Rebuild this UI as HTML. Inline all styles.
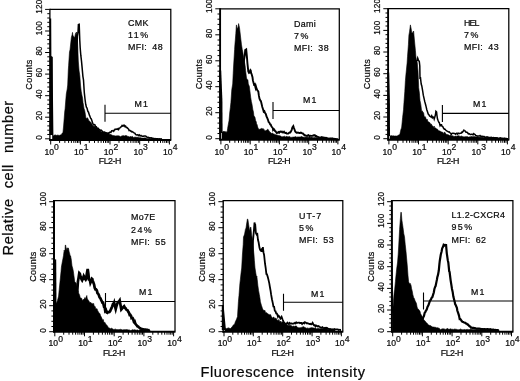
<!DOCTYPE html>
<html><head><meta charset="utf-8"><title>Figure</title>
<style>html,body{margin:0;padding:0;background:#fff;}svg{display:block;}text{font-family:"Liberation Sans", Arial, Helvetica, sans-serif;fill:#0a0a0a;stroke:#0a0a0a;stroke-width:0.22px;}</style>
</head><body>
<svg width="520" height="381" viewBox="0 0 520 381">
<rect width="520" height="381" fill="#fff"/>
<g>
<polygon points="52.5,139.6 52.5,134.8 53.2,135.7 53.9,135.4 54.6,135.1 55.3,134.9 56,135.2 57,135.6 57.4,134.9 58.1,135.2 58.8,135.3 59.5,135.4 60.2,134.9 61,135 61.6,134.3 62.3,133 62.9,133 63.6,126 64.7,112 65.1,108.7 65.8,100 66.3,94 67.2,89.1 67.7,85 68.3,70 68.6,65.8 69.5,51.7 70,49.9 71,40.7 71.4,37.2 72.1,34.8 72.5,32.4 72.8,35.1 73.3,36 74.3,37.5 74.9,36.4 75.5,33.5 76.5,32 77.2,36 77.8,48 78.3,61 79.1,70.9 79.8,75.5 80.5,85 81.2,91.2 81.9,95.1 82.6,98.3 83,102.6 83.3,103.9 84,108.4 84.7,110.6 85.4,114.4 85.8,117.3 86.1,119 86.8,117.9 87.5,117.8 88.2,119.1 88.9,120.7 89.5,121 90.3,122.3 91,122.3 91.7,123.8 92.4,125.3 93.1,125.5 94,126.5 94.5,126 95.2,127.3 95.9,126.7 96.6,127.6 97.3,127.8 98,128.6 98.7,129.1 99.6,130 100.1,131 100.8,131.2 101.5,131.9 102.2,131.8 102.9,131.8 103.6,132.4 104.3,131.4 105,133 105.7,133 106.4,132.8 107.1,133.6 107.8,133.6 108.5,133 109.2,133.7 110,134.5 110.6,134.2 111.3,134.6 112,135.3 112.7,135.4 113.4,135.5 114.1,135.7 115,135.8 115.5,136 116.2,135.7 116.9,136 117.6,135.7 118.3,135.7 119,135.9 120,136.3 120.4,136.7 121.1,136.2 121.8,136 122.5,135.7 123.2,135.8 123.9,135.6 124.6,136 125,135.8 125.3,135.6 126,135.6 126.7,135.7 127.4,136.2 128.1,136.4 128.8,136.6 129.5,137 130,136.6 130.9,136.5 131.6,136.8 132.3,136.4 133,136.7 133.7,137.4 134.4,137.2 135.1,137.1 135.8,137.2 136.5,137.3 137.2,137.3 137.9,137.2 138.6,137.6 139.3,137.8 140,137.6 140.7,137.8 141.4,137.9 142.1,138.1 142.8,138.1 143.5,138.1 144.2,138 144.9,137.8 145.6,137.9 146.3,138.2 147,138.4 147.7,138.4 148.4,138.2 149.1,138.4 150,138.4 150.5,138.8 151.2,138.5 151.9,138.5 152.6,138.3 153.3,138.3 154,138.5 154.7,138.6 155.4,138.8 156.1,139 156.8,139 157.5,139.1 158.2,138.9 158.9,138.7 159.6,138.9 160.3,139.3 161,139.2 161.7,138.9 162,139 162,139.6" fill="#000" stroke="#000" stroke-width="0.6" stroke-linejoin="miter"/>
<polyline points="76.6,60 77.4,36 78,32.5 78.4,24.5 79.2,24.2 79.8,40.7 80.2,48 80.8,55.2 81.5,61.2 82,66.4 82.9,76.3 83.5,80 84.3,92.7 85,99 85.7,104.3 86.4,107.1 87,108 87.8,111.2 88.5,112.2 89.5,115.4 89.9,116.3 90.6,118.2 91.3,119 92,121 92.7,123.3 93.4,124.8 94,124.6 94.8,124.7 95.5,126.4 96.2,126.7 97,128 97.6,128.5 98.3,128.3 99,129.5 100,130 100.4,130.5 101.1,130.2 101.8,130.6 102.5,131.8 103.2,131.9 103.9,132.6 104.6,132.5 105,132.3 105.3,132.6 106,132.7 106.7,132.9 107.4,133.3 108,133 108.8,133.1 109.5,132.4 110.2,132.1 111,132.4 111.6,130.8 112.3,131 113,130.5 113.7,131.3 114.4,130.2 115.1,129.1 115.7,129.4 116.5,129.1 117.2,129.3 118,128.6 118.6,129.5 119.3,128.1 120,127.9 120.5,127.4 121.4,126.6 122.1,125.4 122.8,126.1 123.2,126 123.5,125.4 124,125 125,126.6 125.6,126.2 126.3,127.6 127,127.6 128,128.6 128.4,128.8 129.1,130.6 129.8,130.4 130.5,130.9 131.5,131.8 131.9,131.4 132.6,131.8 133.3,132.3 134,132.9 135,133.4 135.4,134.2 136.1,134.9 136.8,135 137.5,134.7 138.2,134.9 138.9,135.7 139.4,134.9 140.3,135.9 141,135.5 141.7,136.1 142.4,136.3 143,136 143.8,136.3 144.5,136.1 145.2,136.1 145.9,136.2 146.6,136.8 147.2,137.2 148,137.2 148.7,137.4 149.4,137.9 150.1,137.7 151,138 151.5,137.8 152.2,138.4 152.9,138.3 153.6,138.6 154.3,138.7 155,138.5 155.7,138.7 156.4,138.7 157.1,138.8 157.8,138.8 158.5,138.9 159.2,139 159.9,138.8 160.6,139 161.3,138.9 162,139" fill="none" stroke="#000" stroke-width="1.5" stroke-linejoin="miter"/>
<polygon points="49.6,18.5 51.2,18.5 51.4,56 52.8,57 53,100 53.4,135 49.6,135" fill="#000"/>
<path d="M49.9,9.4 H170.8 V139.6" fill="none" stroke="#000" stroke-width="1.25"/>
<path d="M49.9,8.8 V140.6" fill="none" stroke="#000" stroke-width="1.3"/>
<path d="M49.1,139.9 H171.3" fill="none" stroke="#000" stroke-width="2"/>
<path d="M49.9,138.8h-4.8M49.9,134.5h-2.6M49.9,130.2h-2.6M49.9,125.9h-2.6M49.9,121.5h-2.6M49.9,117.2h-4.8M49.9,112.9h-2.6M49.9,108.6h-2.6M49.9,104.3h-2.6M49.9,100h-2.6M49.9,95.7h-4.8M49.9,91.4h-2.6M49.9,87h-2.6M49.9,82.7h-2.6M49.9,78.4h-2.6M49.9,74.1h-4.8M49.9,69.8h-2.6M49.9,65.5h-2.6M49.9,61.2h-2.6M49.9,56.8h-2.6M49.9,52.5h-4.8M49.9,48.2h-2.6M49.9,43.9h-2.6M49.9,39.6h-2.6M49.9,35.3h-2.6M49.9,31h-4.8M49.9,26.7h-2.6M49.9,22.3h-2.6M49.9,18h-2.6M49.9,13.7h-2.6M49.9,9.4h-4.8" stroke="#000" stroke-width="1" fill="none"/>
<text transform="translate(41.9,137.5) rotate(-90)" font-size="8.2" text-anchor="middle" letter-spacing="0.15">0</text>
<text transform="translate(41.9,115.6) rotate(-90)" font-size="8.2" text-anchor="middle" letter-spacing="0.15">20</text>
<text transform="translate(41.9,94.1) rotate(-90)" font-size="8.2" text-anchor="middle" letter-spacing="0.15">40</text>
<text transform="translate(41.9,72.5) rotate(-90)" font-size="8.2" text-anchor="middle" letter-spacing="0.15">60</text>
<text transform="translate(41.9,50.9) rotate(-90)" font-size="8.2" text-anchor="middle" letter-spacing="0.15">80</text>
<text transform="translate(41.9,28.2) rotate(-90)" font-size="8.2" text-anchor="middle" letter-spacing="0.15">100</text>
<text transform="translate(41.9,6.6) rotate(-90)" font-size="8.2" text-anchor="middle" letter-spacing="0.15">120</text>
<text transform="translate(32.1,74.5) rotate(-90)" font-size="9" text-anchor="middle" letter-spacing="0.3">Counts</text>
<path d="M50.7,139.6v4.9M59.6,139.6v3.3M64.9,139.6v3.3M68.6,139.6v3.3M71.4,139.6v3.3M73.8,139.6v3.3M75.8,139.6v3.3M77.5,139.6v3.3M79,139.6v3.3M80.4,139.6v4.9M89.3,139.6v3.3M94.5,139.6v3.3M98.2,139.6v3.3M101.1,139.6v3.3M103.5,139.6v3.3M105.5,139.6v3.3M107.2,139.6v3.3M108.7,139.6v3.3M110,139.6v4.9M119,139.6v3.3M124.2,139.6v3.3M127.9,139.6v3.3M130.8,139.6v3.3M133.1,139.6v3.3M135.1,139.6v3.3M136.8,139.6v3.3M138.4,139.6v3.3M139.7,139.6v4.9M148.7,139.6v3.3M153.9,139.6v3.3M157.6,139.6v3.3M160.5,139.6v3.3M162.8,139.6v3.3M164.8,139.6v3.3M166.5,139.6v3.3M168,139.6v3.3M169.4,139.6v4.9" stroke="#000" stroke-width="1" fill="none"/>
<text x="44.4" y="154.6" font-size="8.6">10<tspan dy="-4.4" dx="0.1">0</tspan></text>
<text x="74.1" y="154.6" font-size="8.6">10<tspan dy="-4.4" dx="0.1">1</tspan></text>
<text x="103.8" y="154.6" font-size="8.6">10<tspan dy="-4.4" dx="0.1">2</tspan></text>
<text x="133.4" y="154.6" font-size="8.6">10<tspan dy="-4.4" dx="0.1">3</tspan></text>
<text x="163.1" y="154.6" font-size="8.6">10<tspan dy="-4.4" dx="0.1">4</tspan></text>
<text x="109.8" y="164.4" font-size="8.8" text-anchor="middle" letter-spacing="-0.5">FL2-H</text>
<text x="128" y="26" font-size="8.9" letter-spacing="0.35">CMK</text>
<text x="128" y="38.2" font-size="8.9" letter-spacing="1.5">11%</text>
<text x="128" y="50.4" font-size="8.9" letter-spacing="0.35" word-spacing="2.4">MFI: 48</text>
<path d="M105,104.7v17M105,113.2H170.8" stroke="#000" stroke-width="1.1" fill="none"/>
<text x="134.5" y="106.5" font-size="8.8" letter-spacing="1.2">M1</text>
</g>
<g>
<polygon points="222,139.5 222,132.2 222.7,131.9 223.4,131.6 224,131 224.8,132 225.5,131.6 226,132.4 226.9,131.4 227.2,131.8 227.6,128.6 228.3,124.4 229,120.8 229.7,113 230.4,107.2 230.9,102.4 231.8,89.4 232.7,84 233.2,73.4 233.6,66 234.6,49.5 234.9,44.8 235.3,40.1 235.8,33.7 236.4,24.9 237.3,29 238.1,27 238.6,23.6 239.5,27.8 240,31.9 240.9,39.8 241.5,44.8 242.3,49.8 242.8,52 243.7,57.6 244.3,61.3 245.1,65.4 245.6,70.5 246.5,78 247.2,79.7 247.9,79.7 248.3,84 249.3,86.2 250.2,93.2 250.7,97.3 251.4,101.7 252,104.3 252.8,109.4 253.5,112.2 253.8,115.3 254.2,116.2 254.9,117 255.6,120.5 256.3,121.9 256.6,124.5 257,124.2 257.7,127.1 258.4,128.8 259.1,129.4 259.4,130 259.8,128.9 260.5,129 261.2,128.4 261.9,128.6 262.6,128.9 263,128.4 264,129.4 264.7,130.8 265,131 265.4,131 266.1,130.1 266.8,130.5 267.6,129.2 268.2,129.5 268.9,130.8 269.6,131.6 270,132.6 271,132.7 271.7,133.5 272.4,132.8 273,134 273.8,133.9 274.5,134.2 275.2,134.8 275.9,134.4 276.6,135 277.3,135.1 278,135.4 278.7,135.5 279.4,135.6 280,136 280.8,136 281.5,136.7 282.2,136.7 282.9,136.7 283.6,136.6 284.3,136.2 285,136.4 285.7,137 286.4,136.3 287.1,136.6 287.8,136.8 288.5,136.7 289.2,136.8 290,136.6 290.6,137.4 291.3,137.3 292,137.4 292.7,137.1 293.4,137.1 294.1,136.9 294.8,136.9 295.5,136.6 296.2,136.9 296.9,137.2 297.6,136.9 298.3,136.9 299,137 299.7,136.9 300,136.8 300.4,137 301.1,136.6 301.8,136.5 302.5,136.9 303.2,137.1 303.9,137.3 304.6,137.2 305.3,137.2 306,136.7 306.7,137.3 307.4,137 308.1,137.4 308.8,137 309.5,137 310,137.3 310.9,137.2 311.6,137.1 312.3,137.5 313,137.6 313.7,137.7 314.4,137.5 315.1,137.4 315.8,137.4 316.5,137.4 317.2,137.6 317.9,137.8 318.6,137.7 319.3,137.6 320,137.8 320.7,138 321.4,138 322.1,138 322.8,138 323.5,138.1 324.2,138.1 324.9,138.3 325.6,138.3 326.3,137.7 327,137.9 327.7,138.6 328.4,138.2 329.1,138.2 329.8,138.5 330.5,138.4 331.2,138.6 331.9,138.3 332.6,138.1 333.3,138.3 334,138.3 334.7,138.2 335,138.5 335,139.5" fill="#000" stroke="#000" stroke-width="0.6" stroke-linejoin="miter"/>
<polyline points="243.4,75 244,60 244.8,55.5 245.2,50 246.2,49.4 246.9,56.5 247.4,63 248.3,71.4 249,72.8 249.5,72.5 250.4,70.1 250.7,70.5 251.1,73 251.6,74 252.5,77.3 252.9,80.4 254,84.5 254.8,84 255.3,86.9 255.6,88 256,86.6 256.7,89 257.4,90.4 258.3,91.4 258.8,95.2 259.5,98.6 260.4,100.6 260.9,101.1 261.6,104 262.3,107 263.2,109.8 263.7,111.7 264.4,111.2 265.1,113.1 265.8,114 266.5,116.3 266.8,117 267.2,117.8 267.9,119.6 268.6,122 269.3,122.5 270.2,124.5 270.7,124.6 271.4,126.2 272.1,127.3 272.8,128.1 273.1,130 273.5,129.6 274.2,129.4 274.9,131 275.6,131.2 276.3,132.4 276.8,133 277.7,132.6 278.4,132.1 279.1,132.8 279.8,131.9 280.5,131.6 281.2,131.7 281.9,131.6 282.3,132.3 283.3,132.4 284,131.7 284.7,132.8 285.4,133 286.1,132.8 286.8,133.6 287.5,133.6 288.2,133.6 288.9,133 289.6,132.4 290.3,132.5 291,131.2 291.7,129.8 292.4,127.4 293.3,126.1 293.8,127.6 294.6,129.7 295.2,131.5 296,132.4 296.6,132.8 297.3,132.8 298,132.5 298.7,132.8 299.4,133 300.1,133 300.8,132.6 301.5,132.9 302.2,133.4 302.9,133.5 303.6,134.3 303.9,134.7 304.3,134.7 305,135.5 305.7,135.5 306.4,135.9 307.1,136 307.8,135.4 308.5,135.2 309.4,136.2 309.9,135.9 310.6,135.7 311.3,135.9 312,135.9 312.7,135.8 313.4,135.2 314,135.4 314.8,135.1 315.5,136 316.2,136 316.9,136.6 317.6,136.7 318.3,137 319,137.5 319.7,137.4 320.4,137.6 321.1,137.3 321.8,137 322.5,137.3 323.2,137.5 323.9,137.8 324.6,137.8 325.3,138 326,137.8 326.7,138.1 327.4,138.2 328.1,138.5 328.8,138.9 329.5,138.8 329.8,138.5 330.2,138.5 330.9,138.5 331.6,138.9 332.3,138.5 333,138.6 333.7,138.8 334.4,139 335.1,138.9 335.8,138.9 336.5,139.1 337.2,139.2 338,139.1" fill="none" stroke="#000" stroke-width="1.9" stroke-linejoin="miter"/>
<polygon points="219.2,70 221.2,70.5 222.4,100 222.6,133 219.2,133" fill="#000"/>
<path d="M220.1,8.8 H339.3 V139.5" fill="none" stroke="#000" stroke-width="1.25"/>
<path d="M220.1,8.2 V140.5" fill="none" stroke="#000" stroke-width="1.9"/>
<path d="M219.3,139.8 H339.8" fill="none" stroke="#000" stroke-width="2"/>
<path d="M220.1,138.7h-4.8M220.1,133.5h-2.6M220.1,128.3h-2.6M220.1,123.1h-2.6M220.1,117.9h-2.6M220.1,112.7h-4.8M220.1,107.5h-2.6M220.1,102.3h-2.6M220.1,97.1h-2.6M220.1,91.9h-2.6M220.1,86.7h-4.8M220.1,81.5h-2.6M220.1,76.3h-2.6M220.1,71.2h-2.6M220.1,66h-2.6M220.1,60.8h-4.8M220.1,55.6h-2.6M220.1,50.4h-2.6M220.1,45.2h-2.6M220.1,40h-2.6M220.1,34.8h-4.8M220.1,29.6h-2.6M220.1,24.4h-2.6M220.1,19.2h-2.6M220.1,14h-2.6M220.1,8.8h-4.8" stroke="#000" stroke-width="1" fill="none"/>
<text transform="translate(212.1,137.4) rotate(-90)" font-size="8.2" text-anchor="middle" letter-spacing="0.15">0</text>
<text transform="translate(212.1,111.1) rotate(-90)" font-size="8.2" text-anchor="middle" letter-spacing="0.15">20</text>
<text transform="translate(212.1,85.1) rotate(-90)" font-size="8.2" text-anchor="middle" letter-spacing="0.15">40</text>
<text transform="translate(212.1,59.2) rotate(-90)" font-size="8.2" text-anchor="middle" letter-spacing="0.15">60</text>
<text transform="translate(212.1,33.2) rotate(-90)" font-size="8.2" text-anchor="middle" letter-spacing="0.15">80</text>
<text transform="translate(212.1,6) rotate(-90)" font-size="8.2" text-anchor="middle" letter-spacing="0.15">100</text>
<text transform="translate(202.3,74.1) rotate(-90)" font-size="9" text-anchor="middle" letter-spacing="0.3">Counts</text>
<path d="M220.9,139.5v4.9M229.7,139.5v3.3M234.9,139.5v3.3M238.5,139.5v3.3M241.3,139.5v3.3M243.7,139.5v3.3M245.6,139.5v3.3M247.3,139.5v3.3M248.8,139.5v3.3M250.2,139.5v4.9M259,139.5v3.3M264.1,139.5v3.3M267.8,139.5v3.3M270.6,139.5v3.3M272.9,139.5v3.3M274.9,139.5v3.3M276.6,139.5v3.3M278.1,139.5v3.3M279.4,139.5v4.9M288.2,139.5v3.3M293.4,139.5v3.3M297,139.5v3.3M299.8,139.5v3.3M302.2,139.5v3.3M304.1,139.5v3.3M305.8,139.5v3.3M307.3,139.5v3.3M308.7,139.5v4.9M317.5,139.5v3.3M322.6,139.5v3.3M326.3,139.5v3.3M329.1,139.5v3.3M331.4,139.5v3.3M333.4,139.5v3.3M335.1,139.5v3.3M336.6,139.5v3.3M337.9,139.5v4.9" stroke="#000" stroke-width="1" fill="none"/>
<text x="214.6" y="154.5" font-size="8.6">10<tspan dy="-4.4" dx="0.1">0</tspan></text>
<text x="243.8" y="154.5" font-size="8.6">10<tspan dy="-4.4" dx="0.1">1</tspan></text>
<text x="273.1" y="154.5" font-size="8.6">10<tspan dy="-4.4" dx="0.1">2</tspan></text>
<text x="302.4" y="154.5" font-size="8.6">10<tspan dy="-4.4" dx="0.1">3</tspan></text>
<text x="331.6" y="154.5" font-size="8.6">10<tspan dy="-4.4" dx="0.1">4</tspan></text>
<text x="279.1" y="164.3" font-size="8.8" text-anchor="middle" letter-spacing="-0.5">FL2-H</text>
<text x="294" y="27" font-size="8.9" letter-spacing="0.35">Dami</text>
<text x="294" y="39.2" font-size="8.9" letter-spacing="1.5">7%</text>
<text x="294" y="51.4" font-size="8.9" letter-spacing="0.35" word-spacing="2.4">MFI: 38</text>
<path d="M273,102v17M273,110.5H339.3" stroke="#000" stroke-width="1.1" fill="none"/>
<text x="303" y="103.1" font-size="8.8" letter-spacing="1.2">M1</text>
</g>
<g>
<polygon points="390,139.5 390,135.6 390.7,136.1 391.4,135.6 392.1,136 392.8,135.8 393.5,135.8 394,135.9 394.9,136.1 395.6,135.9 396.3,136 397,136.1 397.7,135.7 398,135.5 398.4,135.1 399.1,134.7 399.8,134.6 400.5,131.3 401.2,128.4 401.6,128 402.6,117.6 403.5,109.8 404,102.2 404.8,91.4 405.4,80.7 405.9,75 406.8,66 407.1,63.1 407.5,56.7 408.4,44.8 408.9,35.2 409.5,31.9 410.4,24.9 411.2,29 411.7,32.8 412.6,33 413.1,31.6 413.6,31 414.5,41 415.4,50.3 415.9,56.5 416.3,59.5 417.3,63 418,71 418.7,87.7 419.4,93.1 420,100.6 420.8,104.4 421.5,110.2 421.8,111.6 422.2,110.8 422.9,112.2 423.6,112.7 424.3,116.9 424.6,117 425,116.5 425.7,117.6 426.4,120.1 427.1,119.1 427.8,121.3 428.3,121.7 429.2,122.3 429.9,122.7 430.6,124.2 431.3,124 432,125.4 432.7,126 433.4,127.5 434.1,126 434.8,127.9 435.6,128 436.2,128.5 436.9,129.1 437.6,129.2 438.3,130.6 439,130.8 439.7,130.9 440.4,131.3 441.1,131.8 441.8,132 442.5,132.1 443.2,133.5 443.9,132.7 444.6,131.9 445.3,133.1 446,133.8 446.7,134.6 447.4,134.6 448.1,134.7 448.8,135 449.5,135.5 450.2,135.2 450.9,135.2 451.6,136 452.3,136 453,135.6 453.7,136.5 454.4,136.5 455.1,136.1 456,136.2 456.5,136.2 457.2,136 457.9,135.8 458.6,135.7 459.3,135.9 460,136.5 460.7,136.3 461.4,136 462.1,136.5 462.8,136.5 463.5,136.8 464.2,137 465,136.6 465.6,136.7 466.3,136.7 467,136.4 467.7,136.8 468.4,137.1 469.1,137 469.8,136.8 470.5,136.8 471.2,136.6 471.9,136.6 472.6,136.7 473.3,136.6 474,136.7 474.7,136.5 475.4,136.9 476.1,137 476.8,136.8 477.5,136.4 478.2,136.8 478.9,137.3 479.6,137.1 480,137.2 481,137 481.7,137.3 482.4,137.1 483.1,137.5 483.8,137.3 484.5,137.6 485.2,137.5 485.9,137.4 486.6,137.1 487.3,137.1 488,137.3 488.7,137.6 489.4,137.6 490.1,137.4 490.8,137.6 491.5,137.8 492.2,137.7 492.9,137.6 493.6,137.5 494.3,137.8 495,137.7 495.7,137.6 496.4,137.8 497.1,137.7 497.8,137.6 498.5,138 499.2,138.1 499.9,137.9 500.6,137.9 501.3,138.1 502,137.9 502.7,138 503.4,138.2 504.1,137.8 504.8,138 505.5,138.2 506.2,138.3 507,138.2 507,139.5" fill="#000" stroke="#000" stroke-width="0.6" stroke-linejoin="miter"/>
<polyline points="415.6,75 416.4,61.2 417.2,60.4 417.7,58.2 418.4,60.1 419.3,61.6 419.8,66 420,78 420.5,77.9 421.2,84 421.8,85.9 422.6,90.5 423.3,95.2 423.7,96.9 424.7,101.4 425.5,104.2 426.1,106.6 426.8,109.7 427.4,111.6 428.2,114 428.9,114.7 429.6,116.1 430.3,116.3 431,117 431.7,115.8 432.4,117.8 433.1,117 433.8,117.5 434.2,119 435.4,115 435.9,111.3 436.2,111.6 436.6,112.1 436.9,115 437.5,119 438,120.3 438.7,122 439.3,122.6 440.1,125.7 440.8,124.7 441.5,124.7 442,126.3 442.9,126.7 443.6,128.3 444.3,129.1 444.8,129 445.7,130 446.4,130.7 447.1,131.2 447.8,131.5 448.5,132 449.2,131.8 449.9,132.8 450.6,133.2 451.3,134.5 452,133.4 452.7,133.2 453.4,133.3 454.1,133.6 454.8,133.6 455.7,134.2 456.2,133.6 456.9,133.2 457.6,134 458.3,133.2 459,133.6 459.7,133.6 460.4,133.2 461.1,133.2 462,132 462.5,132.3 463.2,131.2 463.9,130.2 464.4,130.6 465.3,131.1 466,132.2 466.5,132.2 467.4,132.5 468.3,133.8 468.8,134 469.5,133.8 470.2,134.5 470.9,134.4 471.6,134.2 472.3,134.2 473,134.8 473.7,133.6 474.4,134.2 475.1,134.5 475.8,135.7 476.5,135.8 477.2,136 477.9,135.9 478.6,135.9 479.4,136 480,135.5 480.7,136.3 481.4,136.2 482.1,136.2 482.8,136.6 483.5,136.6 484.2,136.6 484.9,137.3 485.6,137.3 486,137 487,137 487.7,137 488.4,137.3 489.1,137.5 489.8,137.4 490.5,137.4 491.2,137.2 492,137.7 492.6,137.8 493.3,137.6 494,137.7 494.7,137.7 495.4,137.8 496.1,138 496.8,137.8 497.5,138.2 498.2,138.5 498.9,138.6 499.6,138.2 500.3,137.9 501,138.1 501.7,138.3 502.4,138.4 503,138.5 503.8,138.5 504.5,138.5 505.2,138.7 505.9,138.5 506.6,138.7 507.3,138.8 508,138.8" fill="none" stroke="#000" stroke-width="1.5" stroke-linejoin="miter"/>
<polygon points="387.4,72 389.2,72.5 389.9,100 390,136 387.4,136" fill="#000"/>
<path d="M388.1,8.7 H508.8 V139.5" fill="none" stroke="#000" stroke-width="1.25"/>
<path d="M388.1,8.1 V140.5" fill="none" stroke="#000" stroke-width="1.9"/>
<path d="M387.3,139.8 H509.3" fill="none" stroke="#000" stroke-width="2"/>
<path d="M388.1,138.7h-4.8M388.1,134.4h-2.6M388.1,130h-2.6M388.1,125.7h-2.6M388.1,121.4h-2.6M388.1,117h-4.8M388.1,112.7h-2.6M388.1,108.4h-2.6M388.1,104h-2.6M388.1,99.7h-2.6M388.1,95.4h-4.8M388.1,91h-2.6M388.1,86.7h-2.6M388.1,82.4h-2.6M388.1,78h-2.6M388.1,73.7h-4.8M388.1,69.4h-2.6M388.1,65h-2.6M388.1,60.7h-2.6M388.1,56.4h-2.6M388.1,52h-4.8M388.1,47.7h-2.6M388.1,43.4h-2.6M388.1,39h-2.6M388.1,34.7h-2.6M388.1,30.4h-4.8M388.1,26h-2.6M388.1,21.7h-2.6M388.1,17.4h-2.6M388.1,13h-2.6M388.1,8.7h-4.8" stroke="#000" stroke-width="1" fill="none"/>
<text transform="translate(380.1,137.4) rotate(-90)" font-size="8.2" text-anchor="middle" letter-spacing="0.15">0</text>
<text transform="translate(380.1,115.4) rotate(-90)" font-size="8.2" text-anchor="middle" letter-spacing="0.15">20</text>
<text transform="translate(380.1,93.8) rotate(-90)" font-size="8.2" text-anchor="middle" letter-spacing="0.15">40</text>
<text transform="translate(380.1,72.1) rotate(-90)" font-size="8.2" text-anchor="middle" letter-spacing="0.15">60</text>
<text transform="translate(380.1,50.4) rotate(-90)" font-size="8.2" text-anchor="middle" letter-spacing="0.15">80</text>
<text transform="translate(380.1,27.6) rotate(-90)" font-size="8.2" text-anchor="middle" letter-spacing="0.15">100</text>
<text transform="translate(380.1,5.9) rotate(-90)" font-size="8.2" text-anchor="middle" letter-spacing="0.15">120</text>
<text transform="translate(370.3,74.1) rotate(-90)" font-size="9" text-anchor="middle" letter-spacing="0.3">Counts</text>
<path d="M388.9,139.5v4.9M397.8,139.5v3.3M403,139.5v3.3M406.7,139.5v3.3M409.6,139.5v3.3M412,139.5v3.3M413.9,139.5v3.3M415.7,139.5v3.3M417.2,139.5v3.3M418.5,139.5v4.9M427.4,139.5v3.3M432.7,139.5v3.3M436.4,139.5v3.3M439.2,139.5v3.3M441.6,139.5v3.3M443.6,139.5v3.3M445.3,139.5v3.3M446.8,139.5v3.3M448.2,139.5v4.9M457.1,139.5v3.3M462.3,139.5v3.3M466,139.5v3.3M468.9,139.5v3.3M471.2,139.5v3.3M473.2,139.5v3.3M474.9,139.5v3.3M476.4,139.5v3.3M477.8,139.5v4.9M486.7,139.5v3.3M491.9,139.5v3.3M495.6,139.5v3.3M498.5,139.5v3.3M500.8,139.5v3.3M502.8,139.5v3.3M504.5,139.5v3.3M506,139.5v3.3M507.4,139.5v4.9" stroke="#000" stroke-width="1" fill="none"/>
<text x="382.6" y="154.5" font-size="8.6">10<tspan dy="-4.4" dx="0.1">0</tspan></text>
<text x="412.2" y="154.5" font-size="8.6">10<tspan dy="-4.4" dx="0.1">1</tspan></text>
<text x="441.9" y="154.5" font-size="8.6">10<tspan dy="-4.4" dx="0.1">2</tspan></text>
<text x="471.5" y="154.5" font-size="8.6">10<tspan dy="-4.4" dx="0.1">3</tspan></text>
<text x="501.1" y="154.5" font-size="8.6">10<tspan dy="-4.4" dx="0.1">4</tspan></text>
<text x="447.9" y="164.3" font-size="8.8" text-anchor="middle" letter-spacing="-0.5">FL2-H</text>
<text x="464" y="26" font-size="8.9" letter-spacing="-0.9">HEL</text>
<text x="464" y="38.2" font-size="8.9" letter-spacing="1.5">7%</text>
<text x="464" y="50.4" font-size="8.9" letter-spacing="0.35" word-spacing="2.4">MFI: 43</text>
<path d="M442.4,104.9v17M442.4,113.4H508.8" stroke="#000" stroke-width="1.1" fill="none"/>
<text x="473" y="106.6" font-size="8.8" letter-spacing="1.2">M1</text>
</g>
<g>
<polygon points="54.4,331.4 54.4,305.5 55.1,305.2 56,303.5 56.5,302.8 57.4,300.7 57.9,298.8 58.6,296.1 59.2,289.7 60,281.8 61,271.8 61.4,267.1 62.1,263.1 62.9,258.9 63.5,255.6 64.2,250 64.9,252.3 65.3,245.1 65.6,245 66.5,250.6 67,247.7 67.4,248 67.7,250 68.4,247.9 69.2,252 69.8,253.9 70.2,257 70.5,255.7 71.2,259 72,266 72.6,267.8 73.3,271.1 73.9,275.4 74.7,281.6 75.7,282.8 76.1,283 76.8,286 77.6,290 78.2,291.2 79,294 79.6,294.9 80.3,298 81,298 81.7,298.3 82.2,300.5 83.1,299.4 83.8,299.6 84.5,298.5 84.9,297.5 85.2,298.9 85.9,297.8 86.8,295.5 87.3,298.9 88,299.5 88.7,300.7 89.5,302 90.1,302.8 90.8,302.3 91.5,303.5 92.2,303.3 93.2,304.5 93.6,303.3 94.3,306.5 95,306.2 95.7,308.4 96.4,308.9 96.9,308.5 97.8,310.9 98.5,312.1 99.2,313.2 99.6,313.5 99.9,313.5 100.6,315.8 101.3,317 102,318.6 102.7,320.3 103.3,319.5 104.1,323 104.8,322.2 105.5,323.4 106,324.6 106.9,325.2 107.6,326.1 108.3,327.7 109,327.8 109.7,328.3 110.4,328.7 111.1,328.3 111.8,328.3 112.5,328.8 113.4,329.4 113.9,329.3 114.6,329.4 115.3,328.8 116,329.7 116.7,329.6 117.4,329.6 118.1,329.7 118.8,329.6 119.5,329.6 120.2,329.3 120.9,329.4 121.6,329.6 122.3,329.9 123,329.7 123.7,329.7 124.4,329.7 125,329.6 125.8,329.8 126.5,329.6 127.2,329.5 127.9,329.9 128.6,329.9 129.3,329.7 130,330.8 130.7,330.4 131.4,330.3 132.1,330 132.8,329.5 133.5,330 134.2,329.8 134.9,329.8 135.6,330 136.3,330.2 137,330 137.7,329.9 138.4,330.4 139.1,330.2 139.8,329.7 140.5,329.9 141.2,329.9 141.9,329.8 142.6,330 143.3,330 144,330.5 145,329.8 145,331.4" fill="#000" stroke="#000" stroke-width="0.6" stroke-linejoin="miter"/>
<polyline points="77.2,292 77.9,281.9 78.6,277.6 79,275 79.3,273.1 79.8,273.6 80.7,277 81.6,279.4 82.1,280.2 83,278 83.5,279.8 84,276.4 85,278 85.8,279.4 86.3,278.5 86.8,274 87.7,269 88.4,274 89,279.6 89.8,279.8 90.4,282.8 91.4,280.5 91.9,278.7 92.3,279 92.6,280.4 93.2,282 94.1,284.6 94.7,287.8 95.4,289.3 96,289.3 96.8,290.4 97.5,293.2 98.2,293.8 98.9,295.3 99.6,297.3 100.5,298.4 101,299.8 101.7,301 102.4,302.6 103.1,302.6 104,306.5 104.5,306.4 105.2,310.7 105.9,309.9 106.3,311.3 106.6,312.3 107.3,312.8 108,312 108.7,312.2 109.4,312 110.2,311 110.8,309.5 111.6,308 112.2,306.4 112.6,305.2 112.9,304.3 113.6,304.6 114.2,302.8 115,306.5 115.7,309.1 116.5,306 117.3,303.6 117.8,302.3 118.6,301.6 119.2,301.3 119.7,300.5 120.5,305 121.3,309.5 122,308.7 122.5,308 123.6,306.8 124.1,306.3 125,308 125.5,308.2 126,309.1 126.9,310.1 127.6,310.3 128.3,311.8 129.1,313.1 129.7,315.1 130.4,315 131.1,316.1 131.5,317.8 131.8,317.6 132.5,317.8 133.2,319.3 133.9,321.7 134.6,321.3 135.3,323.6 136,324.5 137,325.7 137.4,326.3 138.1,326.5 138.8,327.2 139.5,327.8 140.2,328.3 140.9,328.6 141.6,329.1 142.3,329.2 143,329.3 143.7,329.6 144,329.7 144.4,329.6 145.1,329.7 145.8,329.6 146.5,329.7 147.2,329.9 147.9,330.1 148.6,330.4 149.3,330.4 150,330" fill="none" stroke="#000" stroke-width="2.7" stroke-linejoin="miter"/>
<polygon points="53,259 56.2,259.5 56.5,307 53,307" fill="#000"/>
<path d="M54,200.6 H175 V331.4" fill="none" stroke="#000" stroke-width="1.25"/>
<path d="M54,200 V332.4" fill="none" stroke="#000" stroke-width="2.0"/>
<path d="M53.2,331.7 H175.5" fill="none" stroke="#000" stroke-width="2"/>
<path d="M54,331.7h-4.8M54,326.5h-2.6M54,321.3h-2.6M54,316.1h-2.6M54,310.9h-2.6M54,305.7h-4.8M54,300.5h-2.6M54,295.3h-2.6M54,290.1h-2.6M54,284.9h-2.6M54,279.7h-4.8M54,274.5h-2.6M54,269.3h-2.6M54,264.1h-2.6M54,258.9h-2.6M54,253.7h-4.8M54,248.5h-2.6M54,243.3h-2.6M54,238.1h-2.6M54,232.9h-2.6M54,227.7h-4.8M54,222.5h-2.6M54,217.3h-2.6M54,212.1h-2.6M54,206.9h-2.6M54,201.7h-4.8" stroke="#000" stroke-width="1" fill="none"/>
<text transform="translate(46,330.4) rotate(-90)" font-size="8.2" text-anchor="middle" letter-spacing="0.15">0</text>
<text transform="translate(46,304.1) rotate(-90)" font-size="8.2" text-anchor="middle" letter-spacing="0.15">20</text>
<text transform="translate(46,278.1) rotate(-90)" font-size="8.2" text-anchor="middle" letter-spacing="0.15">40</text>
<text transform="translate(46,252.1) rotate(-90)" font-size="8.2" text-anchor="middle" letter-spacing="0.15">60</text>
<text transform="translate(46,226.1) rotate(-90)" font-size="8.2" text-anchor="middle" letter-spacing="0.15">80</text>
<text transform="translate(46,198.9) rotate(-90)" font-size="8.2" text-anchor="middle" letter-spacing="0.15">100</text>
<text transform="translate(36.2,266.6) rotate(-90)" font-size="9" text-anchor="middle" letter-spacing="0.3">Counts</text>
<path d="M54.8,331.4v4.9M63.7,331.4v3.3M69,331.4v3.3M72.7,331.4v3.3M75.6,331.4v3.3M77.9,331.4v3.3M79.9,331.4v3.3M81.6,331.4v3.3M83.1,331.4v3.3M84.5,331.4v4.9M93.4,331.4v3.3M98.7,331.4v3.3M102.4,331.4v3.3M105.3,331.4v3.3M107.6,331.4v3.3M109.6,331.4v3.3M111.3,331.4v3.3M112.8,331.4v3.3M114.2,331.4v4.9M123.1,331.4v3.3M128.4,331.4v3.3M132.1,331.4v3.3M135,331.4v3.3M137.3,331.4v3.3M139.3,331.4v3.3M141,331.4v3.3M142.5,331.4v3.3M143.9,331.4v4.9M152.8,331.4v3.3M158.1,331.4v3.3M161.8,331.4v3.3M164.7,331.4v3.3M167,331.4v3.3M169,331.4v3.3M170.7,331.4v3.3M172.2,331.4v3.3M173.6,331.4v4.9" stroke="#000" stroke-width="1" fill="none"/>
<text x="48.5" y="346.4" font-size="8.6">10<tspan dy="-4.4" dx="0.1">0</tspan></text>
<text x="78.2" y="346.4" font-size="8.6">10<tspan dy="-4.4" dx="0.1">1</tspan></text>
<text x="107.9" y="346.4" font-size="8.6">10<tspan dy="-4.4" dx="0.1">2</tspan></text>
<text x="137.6" y="346.4" font-size="8.6">10<tspan dy="-4.4" dx="0.1">3</tspan></text>
<text x="167.3" y="346.4" font-size="8.6">10<tspan dy="-4.4" dx="0.1">4</tspan></text>
<text x="113.9" y="356.2" font-size="8.8" text-anchor="middle" letter-spacing="-0.5">FL2-H</text>
<text x="131" y="220.3" font-size="8.9" letter-spacing="0.35">Mo7E</text>
<text x="131" y="232.5" font-size="8.9" letter-spacing="1.5">24%</text>
<text x="131" y="244.7" font-size="8.9" letter-spacing="0.35" word-spacing="2.4">MFI: 55</text>
<path d="M105.5,293v17M105.5,301.5H175" stroke="#000" stroke-width="1.1" fill="none"/>
<text x="139" y="294.8" font-size="8.8" letter-spacing="1.2">M1</text>
</g>
<g>
<polygon points="225,331.4 225,328.8 225.7,328.3 226.4,328.7 227.1,328 228,328.6 228.5,327.7 229.2,328.3 229.9,328.3 230.6,328.5 231,328 232,327 232.7,326 233.4,325 234.1,324.4 234.7,323.8 235.5,321.3 236.2,320.1 236.9,318.2 237.5,316.5 238.4,301.8 239,295.3 239.9,283.4 240.4,279.2 241.1,272.5 241.7,268 242.4,255 243.2,244.5 243.5,236.8 243.9,236.1 244.6,234 245.4,229.4 246,228.1 246.6,224 247.4,219 247.9,219.3 248.4,223 249,226.7 249.5,231.2 250.3,227.6 250.9,227.1 251.6,235 252.3,238.5 252.7,242.3 253.7,252.2 254,255 254.4,260.8 255,268 255.8,273.1 256.5,277.2 256.8,276 257.2,279.3 257.9,285.8 258.6,290.7 259.3,294.4 260,298.6 260.4,301.8 261.4,305.3 262.1,307.3 262.6,309.1 263.5,310.1 264.2,310.8 264.9,310.2 265.6,313 266,312.8 267,312.8 267.7,314 268.4,314.2 269.1,314.2 269.8,315.1 270.6,314.6 271.2,316.3 271.9,317.3 272.6,318.3 273.3,317.1 274,317.2 274.7,318.4 275.1,318.3 276.1,318.2 276.8,319.6 277.5,320.3 278.2,320.5 278.9,319.4 279.6,321.4 280.3,321.5 280.7,321 281.7,322.4 282.4,321.7 283.1,321.9 283.8,322.4 284.3,323.8 285.2,323.9 285.9,324.1 286.6,324.3 287.3,324.9 288,325.2 288.7,325.4 289.4,325 290,325.6 290.8,325.2 291.5,325.7 292.2,326.4 292.9,326.3 293.6,326.1 294.3,326.5 295,326 295.7,326 296.4,326.1 297.1,326.7 297.8,327.6 298.5,327.7 299.2,327.9 300,327.4 300.6,327.7 301.3,327.4 302,327.4 302.7,326.7 303.4,326.8 304.1,326.8 304.8,327.5 305.5,327.8 306.2,328.1 306.9,328.4 307.6,327.9 308.3,328.2 309,328.6 309.7,328.1 310,327.8 310.4,328 311.1,327.5 311.8,327.8 312.5,327.7 313.2,327.9 313.9,327.9 314.6,328.2 315.3,327.6 316,328.6 316.7,328.9 317.4,328.5 318.1,328.3 318.8,328.4 319.5,328.7 320,328.6 320.9,328.9 321.6,328.3 322.3,328.2 323,328.9 323.7,329 324.4,328.6 325.1,328.6 325.8,328.4 326.5,328.5 327.2,329.2 327.9,329.1 328.6,329.4 329.3,329.4 330,329 330.7,329 331.4,329.8 332.1,329.4 332.8,329.2 333.5,329.7 334.2,329.6 335,329.6 335,331.4" fill="#000" stroke="#000" stroke-width="0.6" stroke-linejoin="miter"/>
<polyline points="252.4,262 253,240.4 254,229.4 254.5,222.5 254.8,224.2 255.2,224.5 255.9,233 256.6,234.4 257.3,234 258,240.1 258.6,242.3 259.5,247.8 260.1,249.8 260.8,250.6 261.5,249.6 262.2,250.5 262.9,247.2 263.2,250 263.6,252.9 264.1,255 265,263.5 265.7,268.1 266.4,274 266.9,274.2 267.8,277 268.5,279.9 269.3,283.4 269.9,287 270.6,290.9 271.1,294.4 272,299.5 272.9,303.6 273.4,306.5 274.1,306.7 274.8,310.8 275.1,311 275.5,311.2 276.2,313.4 276.9,313.5 277.6,315.4 277.9,316.5 278.3,315.5 279,316 279.7,317.2 280.5,318.6 281.1,317.7 281.6,316.8 282.6,319.5 283.2,321 283.9,322.4 284.7,323.2 285.3,323.7 286,323.6 286.7,323.7 287.4,322.7 288.1,323.3 288.8,324.2 289.5,323 290,323.6 290.9,323.4 291.6,323.5 292.3,323.7 293,323.8 293.7,323.3 294.4,323.3 295.1,322.8 295.7,323.4 296.5,322.4 297.2,322.8 297.9,322.8 298.6,322.7 299.3,322.6 300,323.2 300.7,323 301.4,323 302.1,324 302.8,323.2 303.6,322.8 304.2,323.3 304.9,322.2 305.6,322.5 306.3,323 307,323.5 307.7,323.2 308.4,323.5 309.1,323.8 309.8,324.1 310.5,323.8 311.2,324.3 311.5,324.1 311.9,324 312.6,322.9 313.3,324.2 314,325.3 314.7,325.2 315.4,326.2 316.1,325.4 316.8,325.9 317.5,326.4 318.2,326.1 318.9,326.4 319.4,326.8 320.3,327.2 321,327.7 321.7,327.5 322.4,327.1 323.1,327.9 323.8,328 324.5,328.3 325.2,327.7 325.9,328 326.6,327.8 327.3,328 328,328.6 328.7,328.8 329.4,329.2 330.1,328.9 330.4,329 330.8,329.2 331.5,329.4 332.2,329.5 332.9,329.5 333.6,329.5 334.3,329 335,329.3 335.7,329.4 336.4,329.4 337.1,329.3 337.8,329.3 338.5,330 339.2,329.8 339.9,329.7 340.6,330 341,330" fill="none" stroke="#000" stroke-width="1.8" stroke-linejoin="miter"/>
<polygon points="221.8,305 223.6,305 225.7,327.5 226,330 221.8,330" fill="#000"/>
<path d="M223.2,200.6 H342.8 V331.4" fill="none" stroke="#000" stroke-width="1.25"/>
<path d="M223.2,200 V332.4" fill="none" stroke="#000" stroke-width="1.4"/>
<path d="M222.4,331.7 H343.3" fill="none" stroke="#000" stroke-width="2"/>
<path d="M223.2,331.7h-4.8M223.2,326.5h-2.6M223.2,321.3h-2.6M223.2,316.1h-2.6M223.2,310.9h-2.6M223.2,305.7h-4.8M223.2,300.5h-2.6M223.2,295.3h-2.6M223.2,290.1h-2.6M223.2,284.9h-2.6M223.2,279.7h-4.8M223.2,274.5h-2.6M223.2,269.3h-2.6M223.2,264.1h-2.6M223.2,258.9h-2.6M223.2,253.7h-4.8M223.2,248.5h-2.6M223.2,243.3h-2.6M223.2,238.1h-2.6M223.2,232.9h-2.6M223.2,227.7h-4.8M223.2,222.5h-2.6M223.2,217.3h-2.6M223.2,212.1h-2.6M223.2,206.9h-2.6M223.2,201.7h-4.8" stroke="#000" stroke-width="1" fill="none"/>
<text transform="translate(215.2,330.4) rotate(-90)" font-size="8.2" text-anchor="middle" letter-spacing="0.15">0</text>
<text transform="translate(215.2,304.1) rotate(-90)" font-size="8.2" text-anchor="middle" letter-spacing="0.15">20</text>
<text transform="translate(215.2,278.1) rotate(-90)" font-size="8.2" text-anchor="middle" letter-spacing="0.15">40</text>
<text transform="translate(215.2,252.1) rotate(-90)" font-size="8.2" text-anchor="middle" letter-spacing="0.15">60</text>
<text transform="translate(215.2,226.1) rotate(-90)" font-size="8.2" text-anchor="middle" letter-spacing="0.15">80</text>
<text transform="translate(215.2,198.9) rotate(-90)" font-size="8.2" text-anchor="middle" letter-spacing="0.15">100</text>
<text transform="translate(205.4,266.6) rotate(-90)" font-size="9" text-anchor="middle" letter-spacing="0.3">Counts</text>
<path d="M224,331.4v4.9M232.8,331.4v3.3M238,331.4v3.3M241.7,331.4v3.3M244.5,331.4v3.3M246.8,331.4v3.3M248.8,331.4v3.3M250.5,331.4v3.3M252,331.4v3.3M253.3,331.4v4.9M262.2,331.4v3.3M267.4,331.4v3.3M271,331.4v3.3M273.9,331.4v3.3M276.2,331.4v3.3M278.2,331.4v3.3M279.9,331.4v3.3M281.4,331.4v3.3M282.7,331.4v4.9M291.5,331.4v3.3M296.7,331.4v3.3M300.4,331.4v3.3M303.2,331.4v3.3M305.5,331.4v3.3M307.5,331.4v3.3M309.2,331.4v3.3M310.7,331.4v3.3M312.1,331.4v4.9M320.9,331.4v3.3M326.1,331.4v3.3M329.7,331.4v3.3M332.6,331.4v3.3M334.9,331.4v3.3M336.9,331.4v3.3M338.6,331.4v3.3M340.1,331.4v3.3M341.4,331.4v4.9" stroke="#000" stroke-width="1" fill="none"/>
<text x="217.7" y="346.4" font-size="8.6">10<tspan dy="-4.4" dx="0.1">0</tspan></text>
<text x="247" y="346.4" font-size="8.6">10<tspan dy="-4.4" dx="0.1">1</tspan></text>
<text x="276.4" y="346.4" font-size="8.6">10<tspan dy="-4.4" dx="0.1">2</tspan></text>
<text x="305.8" y="346.4" font-size="8.6">10<tspan dy="-4.4" dx="0.1">3</tspan></text>
<text x="335.1" y="346.4" font-size="8.6">10<tspan dy="-4.4" dx="0.1">4</tspan></text>
<text x="282.4" y="356.2" font-size="8.8" text-anchor="middle" letter-spacing="-0.5">FL2-H</text>
<text x="299" y="219" font-size="8.9" letter-spacing="1.0">UT-7</text>
<text x="299" y="231.2" font-size="8.9" letter-spacing="1.5">5%</text>
<text x="299" y="243.4" font-size="8.9" letter-spacing="0.35" word-spacing="2.4">MFI: 53</text>
<path d="M283.5,293.8v17M283.5,302.3H342.8" stroke="#000" stroke-width="1.1" fill="none"/>
<text x="311" y="296.5" font-size="8.8" letter-spacing="1.2">M1</text>
</g>
<g>
<polygon points="392.6,331.4 392.6,312.8 393.3,302.8 394,294.2 394.4,290.7 394.7,289.2 395.4,281.7 396.3,272.4 396.8,268 397.6,262 398.2,254.2 398.7,246 399.6,229.4 400.4,218.4 400.9,212.2 401.3,212.4 401.9,220.2 402.4,223.4 403,227.6 403.8,233.8 404.5,236.8 405.2,244.2 406,251.5 406.6,258.1 407.3,266 408,275.7 408.6,281.5 409.4,284 410.1,283.2 411,285.2 411.5,288.3 412.2,291 412.8,294.4 413.6,297.4 414.3,298.4 415,300.6 415.6,301.8 416.4,303.3 417.1,307.1 417.8,309.1 418.3,309.1 419.2,310.2 419.9,311.1 420.6,313.7 421.1,314.6 422,316.3 422.7,317.9 423.4,318.9 423.8,320.1 424.8,320.7 425.5,321.5 426.2,322.8 426.9,322.9 427.5,323.8 428.3,324.9 429,324.9 429.7,325.5 430.4,325.5 431.1,326 431.8,326.6 432.1,326.6 432.5,327 433.2,327 433.9,327.1 434.6,327.2 435.3,327 436,328 436.7,327.7 437.4,327.7 438.1,327.8 438.8,328.3 439.5,328.4 440.2,329.7 440.9,329.4 441.6,329.1 442.3,328.9 443,328.6 443.7,328.9 444.4,328.9 445.1,329.5 445.8,329.2 446.5,328.9 447.2,328.6 447.9,328.5 448.7,329.3 449.3,329.3 450,329 450.7,328.8 451.4,329.2 452.1,329.2 452.8,329.3 453.5,329.4 454.2,329.2 454.9,328.9 455.6,329.2 456.3,329.3 457,329.4 457.7,329.7 458.4,329.8 459.1,329.5 459.8,329.6 460.5,329 461.2,329.4 461.9,329.5 462.6,329.7 463.3,329.8 464,329.4 464.7,329.5 465.4,329.8 466.1,329.5 466.8,329.6 467.5,329.4 468.2,329.6 468.9,329.7 469.6,329.5 470,329.6 471,328.9 471.7,329.5 472.4,329.5 473.1,329.4 473.8,329.4 474.5,329.4 475.2,329.7 475.9,329.8 476.6,329.2 477.3,329.5 478,329.6 478.7,329.6 479.4,329.7 480.1,330.1 480.8,329.9 481.5,330.1 482.2,330.1 482.9,329.6 483.6,330.1 484.3,329.9 485,329.8 485.7,330 486.4,330.3 487.1,329.9 487.8,329.7 488.5,329.8 489.2,329.5 489.9,329.4 490.6,329.7 491.3,329.9 492,330 492.7,330.1 493.4,330.2 494.1,329.9 494.8,329.8 495.5,329.8 496.2,329.8 497,329.9 497.6,330.4 498.3,330.3 499,330.7 499.5,331 499.5,331.4" fill="#000" stroke="#000" stroke-width="0.6" stroke-linejoin="miter"/>
<polyline points="420.5,321 421.2,319.1 421.9,320.1 422.6,319.1 422.9,318.3 423.3,317.2 424,315.8 424.7,312.8 425.4,312 425.7,311 426.1,310.5 426.8,309.4 427.5,307 428.4,305.4 428.9,303.8 429.6,301.8 430.3,300.3 430.8,299.9 431.7,297.6 432.4,297 433.2,294.4 433.8,292.5 434.4,289 435.2,286.7 435.6,286 436.6,281.1 436.9,279.7 437.3,277.3 438,274.9 438.8,270.5 439.4,264.1 439.8,260.7 440.8,254.6 441.6,251.5 442.2,248.3 442.9,247 443.6,245 444.3,245.6 445,245 445.7,245.6 446,244.2 446.4,248.8 446.8,253.3 447.8,260.4 448.3,262.5 449.2,271.4 449.6,272 450.6,280.1 451.4,285.2 452,289 452.7,292.1 453.3,296.3 454.1,299.4 454.8,302.1 455.1,304 455.5,304.6 456.2,306.3 456.9,307.8 457.3,310.5 458.3,313.4 459,315.6 459.7,319.1 460.4,319.1 461.1,320 461.8,321.2 462.5,321.8 463.2,322.1 463.6,322.3 464.6,322.6 465.3,322.7 466,323.5 466.7,323.8 467.6,324.6 468.1,324.6 468.8,325.5 469.5,326.2 470.2,326.5 470.9,327.6 471.5,327.6 472.3,327.8 473,327.9 473.7,327.8 474.4,328.2 475.1,328.2 475.8,328.6 476.2,328.6 477.2,328.5 477.9,328.7 478.6,328.6 479.3,328.7 480,328.8 480.7,328.9 481.4,329.2 482.1,329.1 482.8,329 483.5,329.2 484.2,329.2 484.9,329.2 485.6,329.4 486.3,329.6 487,329.1 487.7,329.2 488.4,329.4 489.1,329.3 490,329.5 490.5,329.2 491.2,329.6 491.9,329.5 492.6,329.7 493.3,329.7 494,329.9 494.7,330.2 495.4,329.9 496.1,330 496.8,330.1 497.5,330.2 498.2,330.3 499,330.4" fill="none" stroke="#000" stroke-width="2.2" stroke-linejoin="miter"/>
<polygon points="391,260 392.6,261 393,313 391,313" fill="#000"/>
<path d="M391.9,200.6 H512.9 V331.4" fill="none" stroke="#000" stroke-width="1.25"/>
<path d="M391.9,200 V332.4" fill="none" stroke="#000" stroke-width="2.0"/>
<path d="M391.1,331.7 H513.4" fill="none" stroke="#000" stroke-width="2"/>
<path d="M391.9,331.7h-4.8M391.9,327.4h-2.6M391.9,323h-2.6M391.9,318.7h-2.6M391.9,314.4h-2.6M391.9,310h-4.8M391.9,305.7h-2.6M391.9,301.4h-2.6M391.9,297h-2.6M391.9,292.7h-2.6M391.9,288.4h-4.8M391.9,284h-2.6M391.9,279.7h-2.6M391.9,275.4h-2.6M391.9,271h-2.6M391.9,266.7h-4.8M391.9,262.4h-2.6M391.9,258h-2.6M391.9,253.7h-2.6M391.9,249.4h-2.6M391.9,245h-4.8M391.9,240.7h-2.6M391.9,236.4h-2.6M391.9,232h-2.6M391.9,227.7h-2.6M391.9,223.4h-4.8M391.9,219h-2.6M391.9,214.7h-2.6M391.9,210.4h-2.6M391.9,206h-2.6M391.9,201.7h-4.8" stroke="#000" stroke-width="1" fill="none"/>
<text transform="translate(383.9,330.4) rotate(-90)" font-size="8.2" text-anchor="middle" letter-spacing="0.15">0</text>
<text transform="translate(383.9,308.4) rotate(-90)" font-size="8.2" text-anchor="middle" letter-spacing="0.15">20</text>
<text transform="translate(383.9,286.8) rotate(-90)" font-size="8.2" text-anchor="middle" letter-spacing="0.15">40</text>
<text transform="translate(383.9,265.1) rotate(-90)" font-size="8.2" text-anchor="middle" letter-spacing="0.15">60</text>
<text transform="translate(383.9,243.4) rotate(-90)" font-size="8.2" text-anchor="middle" letter-spacing="0.15">80</text>
<text transform="translate(383.9,220.6) rotate(-90)" font-size="8.2" text-anchor="middle" letter-spacing="0.15">100</text>
<text transform="translate(383.9,198.9) rotate(-90)" font-size="8.2" text-anchor="middle" letter-spacing="0.15">120</text>
<text transform="translate(374.1,266.6) rotate(-90)" font-size="9" text-anchor="middle" letter-spacing="0.3">Counts</text>
<path d="M392.7,331.4v4.9M401.6,331.4v3.3M406.9,331.4v3.3M410.6,331.4v3.3M413.5,331.4v3.3M415.8,331.4v3.3M417.8,331.4v3.3M419.5,331.4v3.3M421,331.4v3.3M422.4,331.4v4.9M431.3,331.4v3.3M436.6,331.4v3.3M440.3,331.4v3.3M443.2,331.4v3.3M445.5,331.4v3.3M447.5,331.4v3.3M449.2,331.4v3.3M450.7,331.4v3.3M452.1,331.4v4.9M461,331.4v3.3M466.3,331.4v3.3M470,331.4v3.3M472.9,331.4v3.3M475.2,331.4v3.3M477.2,331.4v3.3M478.9,331.4v3.3M480.4,331.4v3.3M481.8,331.4v4.9M490.7,331.4v3.3M496,331.4v3.3M499.7,331.4v3.3M502.6,331.4v3.3M504.9,331.4v3.3M506.9,331.4v3.3M508.6,331.4v3.3M510.1,331.4v3.3M511.5,331.4v4.9" stroke="#000" stroke-width="1" fill="none"/>
<text x="386.4" y="346.4" font-size="8.6">10<tspan dy="-4.4" dx="0.1">0</tspan></text>
<text x="416.1" y="346.4" font-size="8.6">10<tspan dy="-4.4" dx="0.1">1</tspan></text>
<text x="445.8" y="346.4" font-size="8.6">10<tspan dy="-4.4" dx="0.1">2</tspan></text>
<text x="475.5" y="346.4" font-size="8.6">10<tspan dy="-4.4" dx="0.1">3</tspan></text>
<text x="505.2" y="346.4" font-size="8.6">10<tspan dy="-4.4" dx="0.1">4</tspan></text>
<text x="451.8" y="356.2" font-size="8.8" text-anchor="middle" letter-spacing="-0.5">FL2-H</text>
<text x="451.4" y="218.1" font-size="8.9" letter-spacing="0.35">L1.2-CXCR4</text>
<text x="451.4" y="230.3" font-size="8.9" letter-spacing="1.5">95%</text>
<text x="451.4" y="242.5" font-size="8.9" letter-spacing="0.35" word-spacing="2.4">MFI: 62</text>
<path d="M423.5,292.5v17M423.5,301H512.9" stroke="#000" stroke-width="1.1" fill="none"/>
<text x="471" y="294.9" font-size="8.8" letter-spacing="1.2">M1</text>
</g>
<text id="rel" transform="translate(13.1,177.85) rotate(-90)" font-size="14.6" text-anchor="middle" word-spacing="6.6" letter-spacing="0.55">Relative <tspan dx="-1.3">cell number</tspan></text>
<text id="flu" x="283" y="376.5" font-size="14.6" text-anchor="middle" word-spacing="7.6" letter-spacing="0.56">Fluorescence intensity</text>
</svg></body></html>
